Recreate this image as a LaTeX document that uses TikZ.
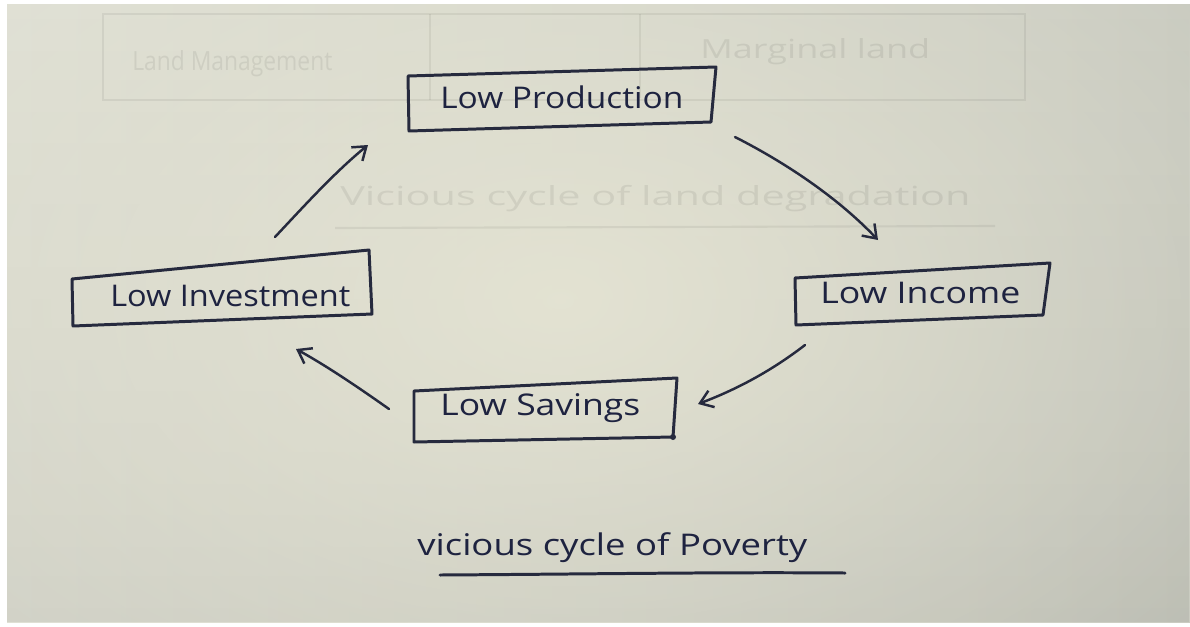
\documentclass[tikz,border=0pt]{standalone}
\usepackage{fontspec}
\setmainfont{Open Sans}
\usetikzlibrary{arrows.meta,fadings}
\definecolor{ink}{HTML}{1E2340}
\definecolor{pen}{HTML}{262A3E}
\definecolor{paperL}{RGB}{222,223,213}
\definecolor{paperR}{RGB}{196,198,189}
\definecolor{paperHi}{RGB}{230,229,212}
\tikzfading[name=glow,inner color=transparent!0,outer color=transparent!100]
\newlength\pxw
\setlength\pxw{0.02cm}
% stretch a handwritten label horizontally to a given width (in px)
\newcommand\hwlabel[2]{\resizebox{#1\pxw}{\height}{#2}}
\begin{document}
\begin{tikzpicture}[x=0.02cm,y=-0.02cm,
  hand/.style={anchor=base west,inner sep=0pt,text=ink,font=\fontsize{17}{20}\selectfont},
  ghosttext/.style={anchor=base west,inner sep=0pt,text=black,text opacity=0.07,font=\fontsize{15}{18}\selectfont},
  boxline/.style={draw=pen,line width=1.7pt,line join=round,line cap=round},
  flow/.style={draw=pen,line width=1.4pt,line cap=round,
    -{Straight Barb[length=7pt,width=10pt,line width=1.4pt]}},
  ghostline/.style={draw=black,draw opacity=0.06,line width=1.2pt}]
\useasboundingbox (0,0) rectangle (1190,626);
% sheet of paper on a white ground
\fill[white] (0,0) rectangle (1190,626);
\shade[left color=paperL,right color=paperR] (7,4) rectangle (1190,622);
\begin{scope}
  \clip (7,4) rectangle (1190,622);
  \fill[black,opacity=0.08,path fading=north] (7,4) rectangle (1190,622);
  \fill[paperHi,opacity=0.9,path fading=glow] (560,300) ellipse (1000 and 640);
\end{scope}
% faint writing from the reverse side
\draw[ghostline] (103,14) rectangle (1025,100);
\draw[ghostline] (430,14) -- (430,100);
\draw[ghostline] (640,14) -- (640,98);
\node[ghosttext] (g1) at (132,70) {\hwlabel{200}{Land Management}};
\node[ghosttext] (g2) at (700,58) {\hwlabel{230}{Marginal land}};
\node[ghosttext] (g3) at (340,205) {\hwlabel{630}{Vicious cycle of land degradation}};
\draw[ghostline] (335,228) -- (995,226);

% boxes
\draw[boxline] (408,76) -- (716,67) -- (711,122) -- (409,131) -- cycle;
\draw[boxline] (72,279) -- (369,250) -- (372,314) -- (73,326) -- cycle;
\draw[boxline] (795,278) -- (1050,263) -- (1043,315) -- (796,325) -- cycle;
\draw[boxline] (414,391) -- (677,378) -- (673,437) -- (414,442) -- cycle;
\fill[pen] (673,437) circle (3);

% labels
\node[hand] (prod) at (440,108) {\hwlabel{243}{Low Production}};
\node[hand] (inv)  at (110,306) {\hwlabel{240}{Low Investment}};
\node[hand] (inc)  at (820,303) {\hwlabel{200}{Low Income}};
\node[hand] (sav)  at (440,415) {\hwlabel{200}{Low Savings}};
\node[hand] (title) at (417,555) {\hwlabel{390}{vicious cycle of Poverty}};

% arrow ends
\coordinate (a1s) at (275,237);
\coordinate (a1e) at (368,145);
\coordinate (a2s) at (735,137);
\coordinate (a2e) at (878,240);
\coordinate (a3s) at (805,345);
\coordinate (a3e) at (698,404);
\coordinate (a4s) at (389,409);
\coordinate (a4e) at (296,349);
\coordinate (u1) at (440,575);
\coordinate (u2) at (845,573);

% the cycle
\draw[flow] (a1s) .. controls (305,205) and (335,172) .. (a1e);
\draw[flow] (a2s) .. controls (790,165) and (840,200) .. (a2e);
\draw[flow] (a3s) .. controls (770,372) and (735,390) .. (a3e);
\draw[flow] (a4s) .. controls (355,385) and (325,365) .. (a4e);

% underline of the title
\draw[pen,line width=1.7pt,line cap=round] (u1) .. controls (600,574) and (720,572) .. (u2);
\end{tikzpicture}
\end{document}
